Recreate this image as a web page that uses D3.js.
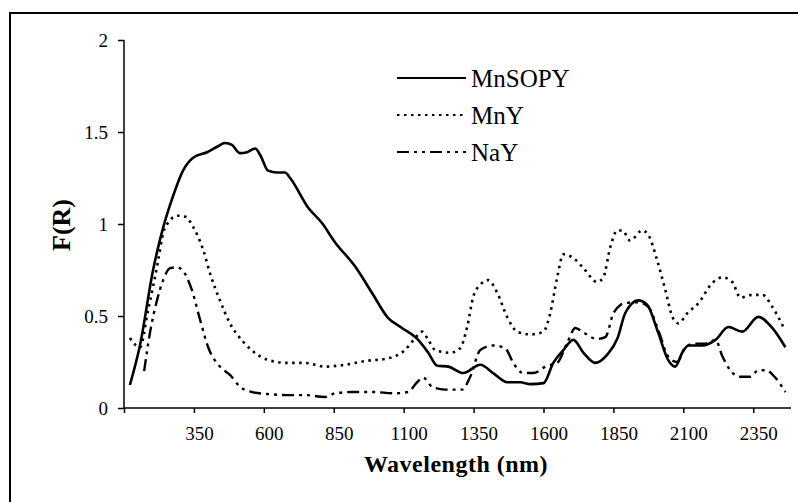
<!DOCTYPE html>
<html>
<head>
<meta charset="utf-8">
<script src="https://cdn.jsdelivr.net/npm/d3@7"></script>
<style>
  html, body { margin: 0; padding: 0; background: #fff; }
  svg { display: block; }
  svg text { font-family: "Liberation Serif", "Times New Roman", Times, "DejaVu Serif", serif !important; fill: #000; }
</style>
</head>
<body>
<svg id="chart" width="798" height="502"></svg>
<script>
// ---------- data ----------
const seriesNames = ["MnSOPY", "MnY", "NaY"];

const mnsopyWl = [121,157,204,240,275,311,347,397,433,461,486,515,540,569,587,615,647,676,694,758,808,855,926,987,1044,1094,1152,1188,1220,1260,1313,1374,1420,1470,1517,1553,1600,1635,1671,1707,1743,1785,1828,1865,1892,1939,1971,2010,2046,2071,2096,2118,2168,2215,2261,2311,2368,2418,2465];
const mnsopyF  = [0.125,0.34,0.75,0.98,1.15,1.29,1.36,1.39,1.42,1.44,1.43,1.385,1.39,1.41,1.375,1.29,1.28,1.28,1.25,1.09,1.005,0.90,0.77,0.625,0.49,0.435,0.37,0.30,0.23,0.225,0.19,0.235,0.19,0.14,0.14,0.13,0.135,0.245,0.315,0.37,0.30,0.245,0.29,0.38,0.515,0.585,0.56,0.41,0.26,0.225,0.30,0.34,0.34,0.37,0.44,0.415,0.495,0.435,0.33];

const mnyWl = [121,157,186,204,222,240,265,290,318,347,383,408,443,479,526,587,647,687,748,819,891,962,1044,1105,1141,1166,1188,1213,1266,1302,1327,1349,1374,1402,1435,1470,1506,1553,1600,1624,1649,1671,1707,1743,1792,1814,1839,1864,1882,1910,1953,1975,2007,2036,2061,2082,2114,2154,2204,2240,2275,2304,2347,2383,2418,2458];
const mnyF  = [0.38,0.33,0.53,0.66,0.80,0.95,1.02,1.045,1.04,0.985,0.86,0.73,0.585,0.46,0.36,0.28,0.25,0.245,0.245,0.225,0.235,0.255,0.27,0.315,0.38,0.415,0.37,0.315,0.30,0.325,0.44,0.605,0.67,0.695,0.625,0.495,0.415,0.40,0.415,0.515,0.71,0.835,0.815,0.76,0.685,0.71,0.875,0.965,0.965,0.91,0.965,0.94,0.80,0.64,0.495,0.46,0.515,0.57,0.68,0.71,0.685,0.60,0.615,0.615,0.55,0.44];

const nayWl = [172,193,218,240,265,290,318,343,372,401,443,479,515,562,622,687,748,819,855,916,987,1070,1116,1148,1170,1202,1248,1309,1338,1374,1420,1463,1492,1528,1563,1613,1649,1685,1714,1743,1792,1821,1850,1875,1892,1939,1975,2010,2046,2078,2107,2143,2179,2215,2240,2268,2304,2340,2368,2397,2426,2465];
const nayF  = [0.20,0.41,0.585,0.695,0.76,0.765,0.73,0.64,0.48,0.33,0.225,0.18,0.115,0.085,0.075,0.07,0.07,0.06,0.08,0.087,0.087,0.08,0.087,0.14,0.165,0.115,0.10,0.10,0.17,0.315,0.34,0.325,0.245,0.19,0.19,0.23,0.245,0.355,0.435,0.41,0.375,0.385,0.515,0.56,0.57,0.575,0.55,0.425,0.28,0.25,0.33,0.35,0.35,0.37,0.28,0.205,0.17,0.17,0.205,0.205,0.17,0.087];

const xTicks = [100,350,600,850,1100,1350,1600,1850,2100,2350];
const xTickLabels = ["","350","600","850","1100","1350","1600","1850","2100","2350"];
const yTicks = [0,0.5,1,1.5,2];
const yTickLabels = ["0","0.5","1","1.5","2"];

// ---------- layout ----------
const FONT = '"Liberation Serif", "Times New Roman", Times, "DejaVu Serif", serif';
const svg = d3.select("#chart");
const x = d3.scaleLinear().domain([100, 2485]).range([124, 791]);
const y = d3.scaleLinear().domain([0, 2]).range([408, 40]);

// outer frame (only top and left edges are visible)
svg.append("path")
  .attr("d", "M10,520 L10,13 L810,13")
  .attr("fill", "none").attr("stroke", "#000").attr("stroke-width", 2);

// axes
const yAxis = d3.axisLeft(y).tickValues(yTicks)
  .tickFormat((d, i) => yTickLabels[i]).tickSize(6).tickPadding(10);
const gy = svg.append("g").attr("transform", "translate(124,0)").call(yAxis)
  .attr("font-family", FONT).attr("font-size", 19);
gy.select(".domain").attr("stroke-width", 1.5).attr("d", "M0,40V408");
gy.selectAll(".tick line").attr("stroke-width", 1.5);

const xAxis = d3.axisBottom(x).tickValues(xTicks)
  .tickFormat((d, i) => xTickLabels[i]).tickSize(5).tickPadding(14);
const gx = svg.append("g").attr("transform", "translate(0,408)").call(xAxis)
  .attr("font-family", FONT).attr("font-size", 19);
gx.select(".domain").attr("stroke-width", 1.5).attr("d", "M124,0H791");
gx.selectAll(".tick line").attr("stroke-width", 1.5);
gx.selectAll(".tick text").attr("dx", 5);

// axis titles
svg.append("text")
  .attr("transform", "translate(70,225) rotate(-90)")
  .attr("text-anchor", "middle")
  .attr("font-family", FONT)
  .attr("font-weight", "bold").attr("font-size", 26)
  .text("F(R)");
svg.append("text")
  .attr("x", 456).attr("y", 472)
  .attr("text-anchor", "middle")
  .attr("font-family", FONT)
  .attr("font-weight", "bold").attr("font-size", 24)
  .attr("letter-spacing", 0.5)
  .text("Wavelength (nm)");

// series
const styles = [
  { w: 2.6, dash: null },
  { w: 2.6, dash: "2.5,4.5" },
  { w: 2.4, dash: "12,5,3,5,3,5" }
];
const data = [
  d3.zip(mnsopyWl, mnsopyF),
  d3.zip(mnyWl, mnyF),
  d3.zip(nayWl, nayF)
];
const line = d3.line().x(d => x(d[0])).y(d => y(d[1])).curve(d3.curveMonotoneX);

[2, 1, 0].forEach(i => {
  svg.append("path")
    .datum(data[i])
    .attr("d", line)
    .attr("fill", "none")
    .attr("stroke", "#000")
    .attr("stroke-width", styles[i].w)
    .attr("stroke-linejoin", "round")
    .attr("stroke-dasharray", styles[i].dash);
});

// legend
const legY = [78, 115, 152];
seriesNames.forEach((name, i) => {
  svg.append("line")
    .attr("x1", 397).attr("x2", 466)
    .attr("y1", legY[i]).attr("y2", legY[i])
    .attr("stroke", "#000")
    .attr("stroke-width", i === 0 ? 2 : 1.8)
    .attr("stroke-dasharray", styles[i].dash);
  svg.append("text")
    .attr("x", 471).attr("y", legY[i] + 9)
    .attr("font-family", FONT)
    .attr("font-size", 25)
    .text(name);
});
</script>
</body>
</html>
